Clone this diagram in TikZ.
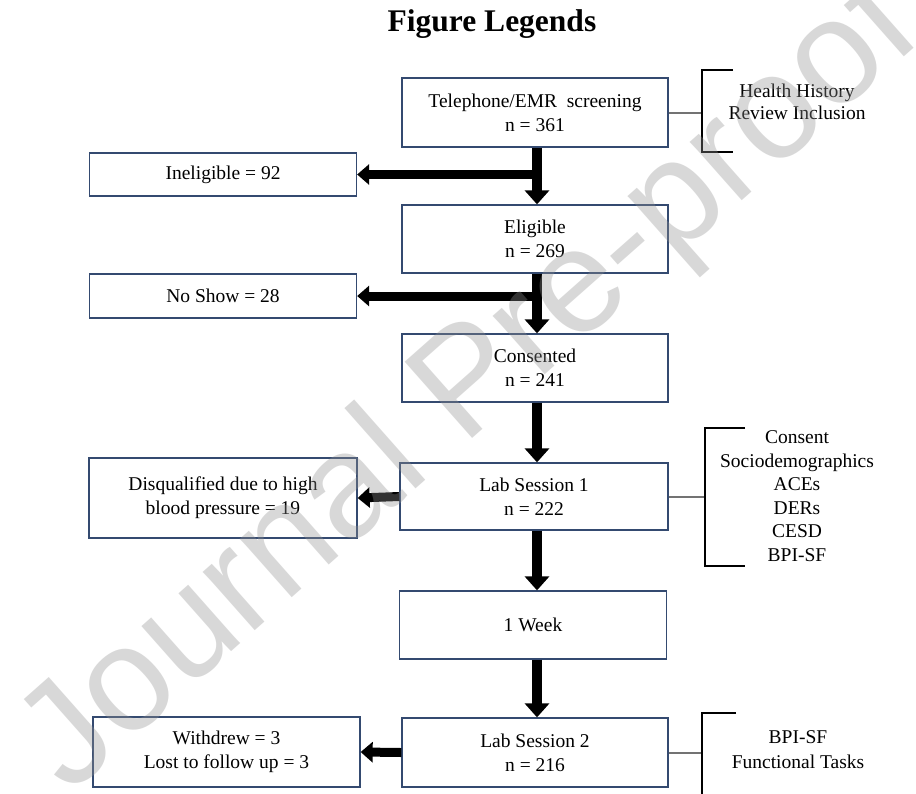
\documentclass[tikz,border=0pt]{standalone}
\usepackage{fontspec}
\setmainfont{Liberation Serif}
\newfontfamily\wmfont{Liberation Sans}
\usetikzlibrary{arrows.meta}
\definecolor{boxblue}{RGB}{52,74,112}
\definecolor{conngray}{RGB}{115,115,115}
\definecolor{wmgray}{RGB}{145,145,145}
\begin{document}
\begin{tikzpicture}[x=1pt,y=-1pt,
  box/.style={draw=boxblue, line width=1.3pt, minimum width=266pt, minimum height=68pt,
    inner sep=0pt, align=center, fill=white, font=\fontsize{19.5}{24}\selectfont},
  lbl/.style={align=center, inner sep=0pt, font=\fontsize{19.5}{23.5}\selectfont},
  varrow/.style={line width=10pt, -{Triangle[width=24pt,length=14pt]}},
  harrow/.style={line width=9pt, -{Triangle[width=20pt,length=12pt]}},
  conn/.style={draw=conngray, line width=2pt},
  bracket/.style={draw=black, line width=2pt},
]
\useasboundingbox (0,0) rectangle (916,793);
\fill[white] (0,0) rectangle (916,793);

% title
\node[anchor=base, inner sep=0pt, font=\bfseries\fontsize{31.5}{36}\selectfont] (title) at (492,31) {Figure Legends};

% main column
\node[box, minimum height=69pt] (tel) at (535,112.5) {Telephone/EMR\ \ screening\\n = 361};
\node[box] (elig) at (535,239) {Eligible\\n = 269};
\node[box] (cons) at (535,368) {Consented\\n = 241};
\node[box, minimum width=268pt, minimum height=67pt] (lab1) at (534,496.5) {Lab Session 1\\n = 222};
\node[box, minimum width=267pt] (week) at (533,625) {1 Week};
\node[box, minimum height=69pt] (lab2) at (535,752.5) {Lab Session 2\\n = 216};

% left column
\node[box, minimum width=267pt, minimum height=43pt] (inel) at (223,174.5) {Ineligible = 92};
\node[box, minimum width=267pt, minimum height=44pt] (nosh) at (223,296) {No Show = 28};
\node[box, minimum width=268pt, minimum height=80pt] (disq) at (223,498) {Disqualified due to high\\blood pressure = 19};
\node[box, minimum width=267pt, minimum height=70pt] (withd) at (226.5,752) {Withdrew = 3\\Lost to follow up = 3};

% arrow axis
\coordinate (ax) at (537,0);

% vertical arrows
\draw[varrow] (tel.south -| ax) -- (elig.north -| ax);
\draw[varrow] (elig.south -| ax) -- (cons.north -| ax);
\draw[varrow] (cons.south -| ax) -- (lab1.north -| ax);
\draw[varrow] (lab1.south -| ax) -- (week.north -| ax);
\draw[varrow] (week.south -| ax) -- (lab2.north -| ax);

% side arrows
\draw[harrow] ([xshift=5pt]inel.east -| ax) -- (inel.east);
\draw[harrow] ([xshift=5pt]nosh.east -| ax) -- (nosh.east);
\draw[harrow] (lab1.west) -- (disq.east);
\draw[harrow] (lab2.west) -- (withd.east);

% bracket labels
\node[lbl, font=\fontsize{19.5}{22.5}\selectfont] (hh) at (797,102) {Health History\\Review Inclusion};
\node[lbl] (meas1) at (797,496) {Consent\\Sociodemographics\\ACEs\\DERs\\CESD\\BPI-SF};
\node[lbl, font=\fontsize{19.5}{25}\selectfont] (meas2) at (798,749.5) {BPI-SF\\Functional Tasks};

% bracket spines
\coordinate (s1) at (702,0);
\coordinate (s2) at (705,0);
\coordinate (s3) at (702,0);
\draw[conn] (tel.east) -- (tel.east -| s1);
\draw[conn] (lab1.east) -- (lab1.east -| s2);
\draw[conn] (lab2.east) -- (lab2.east -| s3);
\draw[bracket] (733,70) -- (702,70) -- (702,152) -- (733,152);
\draw[bracket] (745,428) -- (705,428) -- (705,566) -- (745,566);
\draw[bracket] (736,713) -- (702,713) -- (702,800);

% watermark
\node[font=\wmfont\fontsize{148}{148}\selectfont, text=wmgray, opacity=0.35, rotate=41.5, inner sep=0pt] (wm) at (472,388) {Journal Pre-proof};
\end{tikzpicture}
\end{document}
